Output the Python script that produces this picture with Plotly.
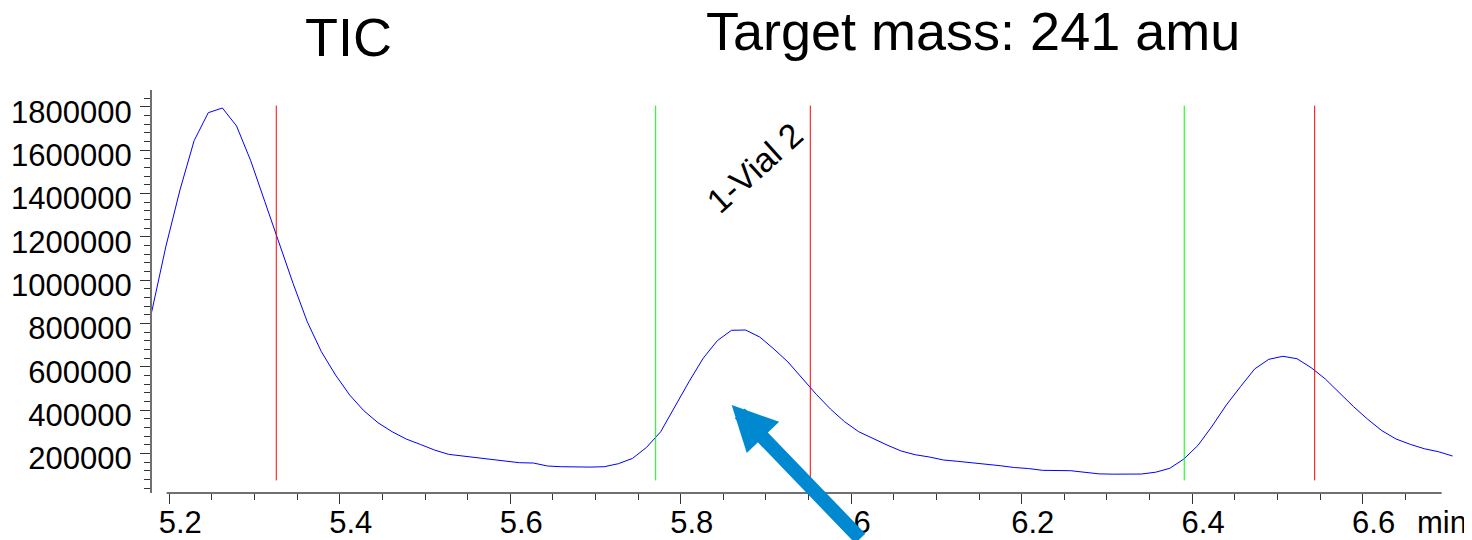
import plotly.graph_objects as go

# ---- data ----
time_min = [5.1794, 5.1959, 5.2125, 5.2291, 5.2457, 5.2623, 5.2789, 5.2955, 5.3121, 5.3286,
            5.3452, 5.3618, 5.3784, 5.3950, 5.4116, 5.4282, 5.4448, 5.4614, 5.4779, 5.4945,
            5.5111, 5.5277, 5.5443, 5.5609, 5.5775, 5.5941, 5.6107, 5.6272, 5.6438, 5.6604,
            5.6770, 5.6936, 5.7102, 5.7268, 5.7434, 5.7600, 5.7765, 5.7931, 5.8097, 5.8263,
            5.8429, 5.8595, 5.8761, 5.8927, 5.9093, 5.9258, 5.9424, 5.9590, 5.9756, 5.9922,
            6.0088, 6.0254, 6.0420, 6.0586, 6.0751, 6.0917, 6.1083, 6.1249, 6.1415, 6.1581,
            6.1747, 6.1913, 6.2079, 6.2244, 6.2410, 6.2576, 6.2742, 6.2908, 6.3074, 6.3240,
            6.3406, 6.3572, 6.3737, 6.3903, 6.4069, 6.4235, 6.4401, 6.4567, 6.4733, 6.4899,
            6.5065, 6.5230, 6.5396, 6.5562, 6.5728, 6.5894, 6.6060, 6.6226, 6.6392, 6.6558,
            6.6723, 6.6889, 6.7055]

intensity = [853800, 1153800, 1415500, 1643100, 1772300, 1794000, 1711000, 1550800, 1361500, 1172300,
             984400, 807600, 669100, 561600, 469300, 396800, 341400, 299900, 266100, 241300,
             215400, 195400, 187700, 179900, 173900, 167500, 156800, 155300, 141500, 138300,
             136600, 136600, 138300, 152200, 176700, 227900, 299900, 415300, 530700, 638700,
             719900, 767900, 769300, 737000, 681600, 621600, 546400, 472500, 404700, 346100,
             299900, 267600, 238500, 210800, 193700, 183100, 169300, 163300, 157700, 151500,
             143000, 134600, 130000, 121700, 120800, 119900, 112500, 105300, 103900, 103900,
             104600, 113000, 130900, 173900, 237100, 326200, 423300, 507900, 589600, 634100,
             648000, 636800, 595400, 543300, 479900, 415300, 357100, 304500, 266200, 241700,
             221400, 207600, 187800]

peak_start_min = [5.7706, 6.3907]          # green markers
peak_end_min = [5.3255, 5.9520, 6.5437]    # red markers
marker_low, marker_high = 75000, 1805000

x_tickvals = [5.2, 5.4, 5.6, 5.8, 6.0, 6.2, 6.4, 6.6]
x_ticktext = ["5.2", "5.4", "5.6", "5.8", "6", "6.2", "6.4", "6.6"]
x_minor = [5.25, 5.3, 5.35, 5.45, 5.5, 5.55, 5.65, 5.7, 5.75, 5.85, 5.9, 5.95,
           6.05, 6.1, 6.15, 6.25, 6.3, 6.35, 6.45, 6.5, 6.55, 6.65]
y_tickvals = [200000, 400000, 600000, 800000, 1000000, 1200000, 1400000, 1600000, 1800000]
y_ticktext = [str(v) for v in y_tickvals]

left_title = "TIC"
right_title = "Target mass: 241 amu"
peak_label = "1-Vial 2"
arrow_tip = (5.8598, 423100)

FONT = "Liberation Sans, Arial, sans-serif"

fig = go.Figure()
fig.add_trace(go.Scatter(x=time_min, y=intensity, mode="lines",
                         line=dict(color="#0000ff", width=1), hoverinfo="skip",
                         showlegend=False))

shapes = []
for t in peak_start_min:
    shapes.append(dict(type="line", xref="x", yref="y", x0=t, x1=t, y0=marker_low, y1=marker_high,
                       line=dict(color="#00ff00", width=1)))
for t in peak_end_min:
    shapes.append(dict(type="line", xref="x", yref="y", x0=t, x1=t, y0=marker_low, y1=marker_high,
                       line=dict(color="#ff0000", width=1)))
# x axis baseline (shorter than the plot area, as in the reference)
shapes.append(dict(type="line", xref="x", yref="paper", x0=5.1969, x1=6.6927, y0=0, y1=0,
                   line=dict(color="#707070", width=2)))

annotations = [
    dict(text=left_title, xref="paper", yref="paper", x=0.1510, y=1.1303, showarrow=False,
         xanchor="center", yanchor="middle", font=dict(family=FONT, size=54, color="black")),
    dict(text=right_title, xref="paper", yref="paper", x=0.6307, y=1.1452, showarrow=False,
         xanchor="center", yanchor="middle", font=dict(family=FONT, size=54, color="black")),
    dict(text=peak_label, xref="x", yref="y", x=5.886, y=1519400, showarrow=False,
         textangle=-42, xanchor="center", yanchor="middle",
         font=dict(family=FONT, size=34, color="black")),
    dict(text="min", xref="paper", yref="paper", x=0.9913, y=-0.0727, showarrow=False,
         xanchor="center", yanchor="middle", font=dict(family=FONT, size=31, color="black")),
    dict(text="", xref="x", yref="y", x=arrow_tip[0], y=arrow_tip[1], showarrow=True,
         axref="pixel", ayref="pixel", ax=130, ay=155, arrowhead=2, arrowsize=0.643,
         arrowwidth=14, arrowcolor="#0088d1", standoff=0),
]

fig.update_layout(
    width=1464, height=532,
    margin=dict(l=143.7, r=19, t=82, b=47, autoexpand=False),
    paper_bgcolor="white", plot_bgcolor="white",
    shapes=shapes, annotations=annotations,
    font=dict(family=FONT, color="black"),
    xaxis=dict(range=[5.1797, 6.706], showgrid=False, zeroline=False, showline=False,
               automargin=False,
               ticks="outside", ticklen=10, tickwidth=1, tickcolor="#333333",
               tickmode="array", tickvals=x_tickvals, ticktext=x_ticktext,
               tickfont=dict(family=FONT, size=31, color="black"),
               ticklabelshift=11, ticklabelstandoff=-8,
               minor=dict(tickmode="array", tickvals=x_minor, ticks="outside",
                          ticklen=6, tickwidth=1, tickcolor="#333333", showgrid=False)),
    yaxis=dict(range=[17000, 1877100], showgrid=False, zeroline=False, showline=True,
               automargin=False,
               linecolor="#707070", linewidth=2,
               ticks="outside", ticklen=10, tickwidth=1, tickcolor="#333333",
               tickmode="array", tickvals=y_tickvals, ticktext=y_ticktext,
               tickfont=dict(family=FONT, size=31, color="black"),
               ticklabelshift=5, ticklabelstandoff=2,
               minor=dict(dtick=40000, ticks="outside", ticklen=6, tickwidth=1,
                          tickcolor="#333333", showgrid=False)),
)

fig.write_html("out.html")
